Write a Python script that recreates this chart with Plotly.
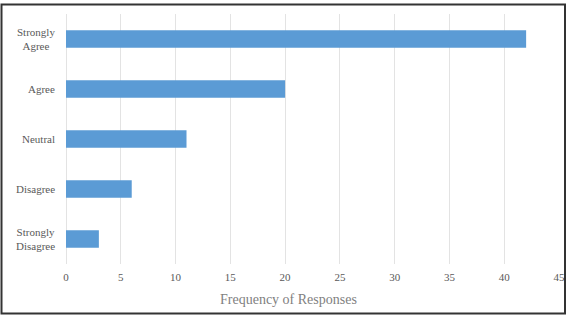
import plotly.graph_objects as go

categories = ["Strongly<br>Disagree", "Disagree", "Neutral", "Agree", "Strongly<br>Agree"]
frequencies = [3, 6, 11, 20, 42]
x_ticks = [0, 5, 10, 15, 20, 25, 30, 35, 40, 45]
x_title = "Frequency of Responses"

font_family = "'Liberation Serif', 'Times New Roman', 'DejaVu Serif', serif"

fig = go.Figure(go.Bar(
    x=frequencies, y=categories, orientation="h",
    marker=dict(color="#5B9BD5", line=dict(width=0)),
    width=0.35,
))

annotations = [
    dict(text=c, xref="paper", yref="y", x=-9 / 493, y=c, xanchor="right",
         yanchor="middle", align="center", showarrow=False,
         font=dict(family=font_family, size=11, color="#595959"))
    for c in categories
]
annotations.append(dict(
    text=x_title, xref="paper", yref="paper", x=(288.5 - 66) / 493,
    y=(264 - 299) / 250, xanchor="center", yanchor="middle", showarrow=False,
    font=dict(family=font_family, size=14, color="#7f7f7f"),
))

fig.update_layout(
    width=572, height=316,
    margin=dict(l=66, r=13, t=14, b=52, autoexpand=False),
    paper_bgcolor="white", plot_bgcolor="white",
    showlegend=False,
    font=dict(family=font_family, color="#595959", size=11),
    xaxis=dict(
        range=[0, 45], tickvals=x_ticks, showgrid=True, gridcolor="#e3e3e3",
        gridwidth=1, zeroline=True, zerolinecolor="#e3e3e3", zerolinewidth=1,
        showline=False, ticks="outside", ticklen=3, tickcolor="rgba(0,0,0,0)",
        tickfont=dict(family=font_family, size=11, color="#595959"),
        automargin=False,
    ),
    yaxis=dict(
        showgrid=False, showline=False, zeroline=False, showticklabels=False,
        automargin=False,
    ),
    annotations=annotations,
    shapes=[dict(
        type="rect", xref="paper", yref="paper",
        x0=(1.5 - 66) / 493, x1=(565 - 66) / 493,
        y0=(264 - 313.5) / 250, y1=(264 - 4.5) / 250,
        line=dict(color="#333333", width=2), fillcolor="rgba(0,0,0,0)",
    )],
)

fig.write_html("out.html")
